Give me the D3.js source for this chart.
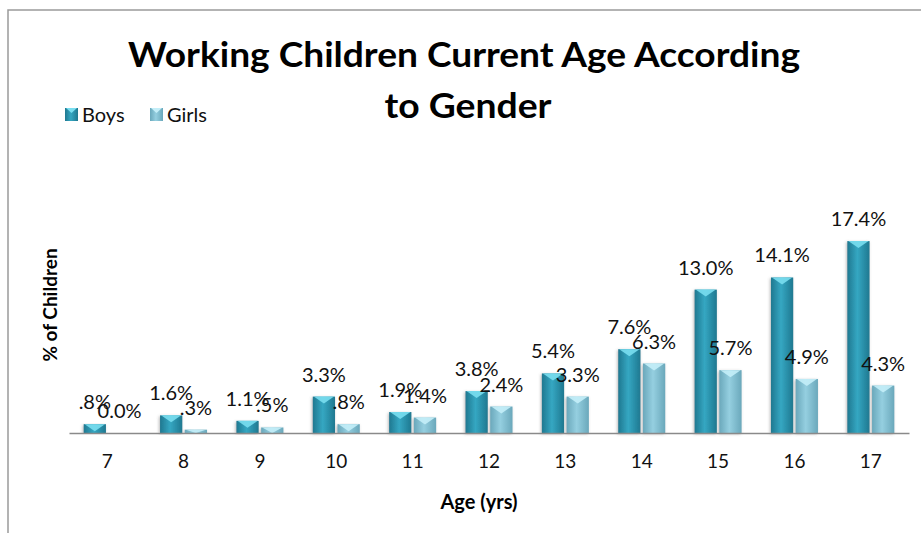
<!DOCTYPE html>
<html>
<head>
<meta charset="utf-8">
<script src="https://cdn.jsdelivr.net/npm/d3@7"></script>
<style>
  body { margin: 0; background: #fff; }
  svg { display: block; font-family: Lato, "Open Sans", sans-serif; }
</style>
</head>
<body>
<svg id="chart" width="921" height="533"></svg>
<script>
// values
var ages = ["7", "8", "9", "10", "11", "12", "13", "14", "15", "16", "17"];
var boys = [0.8, 1.6, 1.1, 3.3, 1.9, 3.8, 5.4, 7.6, 13.0, 14.1, 17.4];
var girls = [0.0, 0.3, 0.5, 0.8, 1.4, 2.4, 3.3, 6.3, 5.7, 4.9, 4.3];
var boysLabels = [".8%", "1.6%", "1.1%", "3.3%", "1.9%", "3.8%", "5.4%", "7.6%", "13.0%", "14.1%", "17.4%"];
var girlsLabels = ["0.0%", ".3%", ".5%", ".8%", "1.4%", "2.4%", "3.3%", "6.3%", "5.7%", "4.9%", "4.3%"];
var seriesNames = ["Boys", "Girls"];

var svg = d3.select("#chart");
var axisY = 433, left = 69, right = 909;

// chart frame (runs off the right and bottom edge)
svg.append("rect")
    .attr("x", 8).attr("y", 10)
    .attr("width", 960).attr("height", 560)
    .attr("fill", "none")
    .attr("stroke", "#9a9a9a")
    .attr("stroke-width", 1.5);

var defs = svg.append("defs");
function grad(id, edge, mid) {
    var g = defs.append("linearGradient").attr("id", id)
        .attr("x1", "0").attr("x2", "1").attr("y1", "0").attr("y2", "0");
    g.append("stop").attr("offset", "0").attr("stop-color", edge);
    g.append("stop").attr("offset", "0.45").attr("stop-color", mid);
    g.append("stop").attr("offset", "1").attr("stop-color", edge);
}
grad("gBoys", "#1f7890", "#35a7c2");
grad("gGirls", "#6aa8bb", "#95cfe0");
var f = defs.append("filter").attr("id", "shadow")
    .attr("x", "-40%").attr("y", "-10%").attr("width", "180%").attr("height", "120%");
f.append("feDropShadow").attr("dx", -1).attr("dy", 1)
    .attr("stdDeviation", 1.5).attr("flood-color", "#666").attr("flood-opacity", 0.45);

var x = d3.scaleBand()
    .domain(ages)
    .range([left, right]);
var x1 = d3.scaleBand()
    .domain(seriesNames)
    .range([x.bandwidth() / 2 - 23.5, x.bandwidth() / 2 + 23.5])
    .paddingInner(0.1);
var y = d3.scaleLinear()
    .domain([0, 20])
    .range([axisY, axisY - 20 * 11.03]);

var series = [
    {name: "Boys", values: boys, labels: boysLabels, fill: "url(#gBoys)", top: "#79def0"},
    {name: "Girls", values: girls, labels: girlsLabels, fill: "url(#gGirls)", top: "#c4eef8"}
];

function rows(s) {
    return s.values.map(function(v, i) { return {s: s, v: v, age: ages[i], label: s.labels[i]}; });
}

var groups = svg.append("g").selectAll("g")
    .data(series)
    .enter().append("g");

groups.selectAll("rect")
    .data(rows)
    .enter().append("rect")
    .attr("x", function(d) { return x(d.age) + x1(d.s.name); })
    .attr("y", function(d) { return y(d.v); })
    .attr("width", x1.bandwidth())
    .attr("height", function(d) { return y(0) - y(d.v); })
    .attr("fill", function(d) { return d.s.fill; })
    .attr("filter", "url(#shadow)");

// bevel at the top of each bar
groups.selectAll("path")
    .data(rows)
    .enter().append("path")
    .attr("d", function(d) {
        var x0 = x(d.age) + x1(d.s.name), w = x1.bandwidth(), t = y(d.v);
        var h = Math.min(7, y(0) - t);
        if (h <= 0) return null;
        return "M" + (x0 + 1) + "," + t + "L" + (x0 + w - 1) + "," + t +
            "L" + (x0 + w / 2) + "," + (t + h) + "Z";
    })
    .attr("fill", function(d) { return d.s.top; })
    .attr("opacity", 0.9);

// data labels
groups.selectAll("text")
    .data(rows)
    .enter().append("text")
    .attr("x", function(d) { return x(d.age) + x1(d.s.name) + x1.bandwidth() / 2; })
    .attr("y", function(d) { return y(d.v) - 15; })
    .attr("text-anchor", "middle")
    .attr("font-size", 20)
    .attr("fill", "#111")
    .text(function(d) { return d.label; });

// x axis
var xAxis = svg.append("g")
    .attr("transform", "translate(0," + axisY + ")")
    .call(d3.axisBottom(x).tickSize(0).tickPadding(22));
xAxis.select(".domain").attr("stroke", "#8a8a8a").attr("stroke-width", 1.5);
xAxis.selectAll("text").attr("font-size", 19).attr("font-family", "Lato").attr("fill", "#111");

// axis titles
svg.append("text")
    .attr("x", 479).attr("y", 509)
    .attr("text-anchor", "middle")
    .attr("font-size", 20).attr("font-weight", "bold")
    .text("Age (yrs)");
svg.append("text")
    .attr("transform", "translate(57,305) rotate(-90)")
    .attr("text-anchor", "middle")
    .attr("font-size", 19).attr("font-weight", "bold")
    .text("% of Children");

// title
svg.append("text")
    .attr("x", 464).attr("y", 67)
    .attr("text-anchor", "middle")
    .attr("font-size", 35).attr("font-weight", "bold")
    .attr("textLength", 672).attr("lengthAdjust", "spacingAndGlyphs")
    .text("Working Children Current Age According");
svg.append("text")
    .attr("x", 468).attr("y", 118)
    .attr("text-anchor", "middle")
    .attr("font-size", 35).attr("font-weight", "bold")
    .attr("textLength", 167).attr("lengthAdjust", "spacingAndGlyphs")
    .text("to Gender");

// legend
var legend = svg.append("g").selectAll("g")
    .data(series)
    .enter().append("g")
    .attr("transform", function(d, i) { return "translate(" + (65 + i * 85) + ",108)"; });
legend.append("rect")
    .attr("width", 13).attr("height", 13)
    .attr("fill", function(d) { return d.fill; });
legend.append("path")
    .attr("d", "M1,0L12,0L6.5,5Z")
    .attr("fill", function(d) { return d.top; });
legend.append("text")
    .attr("x", 17).attr("y", 14)
    .attr("font-size", 20)
    .attr("fill", "#111")
    .text(function(d) { return d.name; });
</script>
</body>
</html>
